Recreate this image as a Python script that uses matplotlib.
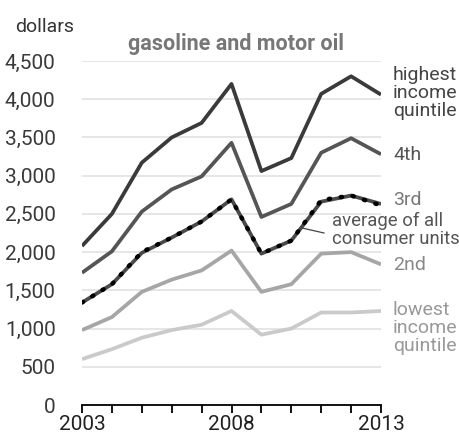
import matplotlib
matplotlib.use("Agg")
import matplotlib.pyplot as plt
import numpy as np

plt.rcParams['font.family'] = ['Roboto', 'DejaVu Sans']

years = np.arange(2003, 2014)
highest = [2080, 2500, 3170, 3500, 3690, 4200, 3060, 3230, 4070, 4300, 4060]
fourth = [1730, 2010, 2530, 2820, 2990, 3430, 2460, 2630, 3300, 3490, 3280]
third = [1340, 1580, 1990, 2190, 2400, 2690, 1980, 2150, 2660, 2740, 2630]
average = [1340, 1580, 2000, 2190, 2400, 2690, 1980, 2150, 2680, 2740, 2610]
second = [980, 1150, 1480, 1640, 1760, 2020, 1480, 1580, 1980, 2000, 1840]
lowest = [600, 730, 880, 980, 1050, 1230, 920, 1000, 1210, 1210, 1230]

fig = plt.figure(figsize=(4.6, 4.36), dpi=100)
ax = fig.add_axes([82/460, 1 - 405/436, 299/460, 344/436])

ax.plot(years, lowest, color='#cacaca', lw=2.7, solid_capstyle='butt')
ax.plot(years, second, color='#a6a6a6', lw=2.7, solid_capstyle='butt')
ax.plot(years, third, color='#4a4a4a', lw=2.7, solid_capstyle='butt')
ax.plot(years, average, color='black', lw=3.2, ls=(0, (0.3, 2.4)),
        dash_capstyle='round')
ax.plot(years, fourth, color='#555555', lw=2.7, solid_capstyle='butt')
ax.plot(years, highest, color='#3a3a3a', lw=2.7, solid_capstyle='butt')

ax.set_xlim(2003, 2013)
ax.set_ylim(0, 4500)
ax.set_yticks(np.arange(0, 4501, 500))
ax.set_yticklabels([f"{v:,}" for v in range(0, 4501, 500)])
ax.yaxis.grid(True, color='#e2e2e2', lw=1.2)
ax.set_axisbelow(True)
ax.tick_params(axis='y', length=0, pad=19, labelsize=15, labelcolor='#3a3a3a')

ax.set_xticks(years)
ax.set_xticklabels([str(y) if y in (2003, 2008, 2013) else '' for y in years])
ax.tick_params(axis='x', direction='out', length=6, width=1.3, color='black',
               labelsize=15, labelcolor='#222222', pad=1)

for side in ('top', 'right', 'left'):
    ax.spines[side].set_visible(False)
ax.spines['bottom'].set_linewidth(1.3)
ax.spines['bottom'].set_color('black')

fig.text(15/460, 1 - 27/436, 'dollars', fontsize=14, color='#333333', va='center')
fig.text(236/460, 1 - 44/436, 'gasoline and motor oil', fontsize=15.5,
         fontweight='bold', color='#777777', ha='center', va='center')

lab = dict(fontsize=14, va='center', ha='left', linespacing=1.0,
           transform=fig.transFigure)
fig.text(393/460, 1 - 93/436, 'highest\nincome\nquintile', color='#444444', **lab)
fig.text(393/460, 1 - 155/436, '4th', color='#555555', **lab)
fig.text(393/460, 1 - 200/436, '3rd', color='#777777', **lab)
lab_avg = dict(lab, fontsize=13.3)
fig.text(332/460, 1 - 230/436, 'average of all\nconsumer units', color='#555555', **lab_avg)
fig.text(393/460, 1 - 265/436, '2nd', color='#888888', **lab)
fig.text(393/460, 1 - 328/436, 'lowest\nincome\nquintile', color='#999999', **lab)

# leader from the average label to its line
fig.add_artist(plt.Line2D([302/460, 324/460], [1 - 228/436, 1 - 233/436],
                          color='#444444', lw=0.9))

fig.savefig('out.png', dpi=100)
